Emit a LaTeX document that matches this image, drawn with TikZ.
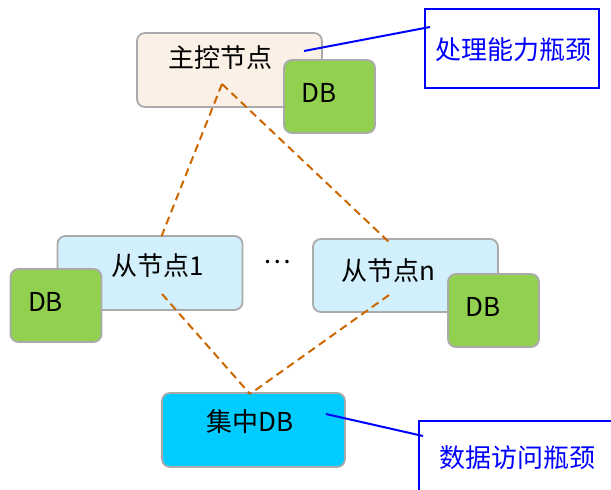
\documentclass[tikz,border=0pt]{standalone}
\usepackage{fontspec}
\newfontfamily\cjk{Noto Sans CJK SC}
\definecolor{boxgray}{RGB}{170,170,170}
\definecolor{masterfill}{RGB}{250,240,230}
\definecolor{slavefill}{RGB}{210,240,252}
\definecolor{dbgreen}{RGB}{146,208,80}
\definecolor{centralfill}{RGB}{0,204,255}
\definecolor{linkorange}{RGB}{204,102,0}
\definecolor{noteblue}{RGB}{0,0,255}
\begin{document}
\begin{tikzpicture}
[x=1pt,y=-1pt,
  boxdecorate/.style={draw=boxgray,line width=1.8pt,rounded corners=8pt,
    minimum width=185pt,minimum height=74pt},%
  dbdecorate/.style={boxdecorate,fill=dbgreen,minimum width=91pt,minimum height=73pt},%
  textdecorate/.style={font=\cjk\fontsize{26}{30}\selectfont,inner sep=0pt},%
  notedecorate/.style={draw=noteblue,line width=2pt,text=noteblue},%
  linkdecorate/.style={draw=linkorange,line width=2pt,dash pattern=on 8pt off 5pt}]
\clip (0,0) rectangle (611,490);
%% master node
\node (master) at (229.5,70) [boxdecorate,fill=masterfill] {};
\node (mastertext) at (220,58) [textdecorate] {主控节点};
%% slave nodes
\node (slave1) at (150,273) [boxdecorate,fill=slavefill] {};
\node (slave1text) at (158,266) [textdecorate] {从节点1};
\node (slaven) at (405.5,275.5) [boxdecorate,fill=slavefill,minimum height=73pt] {};
\node (slaventext) at (388,271) [textdecorate] {从节点n};
\node (dots) at (277,262) [textdecorate] {…};
%% local databases
\foreach \nodename/\x/\y in {masterdb/329.5/96.5, slave1db/56/305.5, slavendb/493.5/310.5} {
  \node (\nodename) at (\x,\y) [dbdecorate] {};
  \node (\nodename text) at (\x-10.5,\y-4) [textdecorate] {DB};
}
%% central database
\node (central) at (253.5,430) [boxdecorate,fill=centralfill,minimum width=183pt] {};
\node (centraltext) at (250,422) [textdecorate] {集中DB};
%% bottleneck notes
\node (note1) at (512,48.5) [notedecorate,minimum width=174pt,minimum height=79pt] {};
\node (note1text) at (513,50) [textdecorate,text=noteblue] {处理能力瓶颈};
\node (note2) at (516,458) [notedecorate,minimum width=194pt,minimum height=74pt] {};
\node (note2text) at (517,458) [textdecorate,text=noteblue] {数据访问瓶颈};
%% end points of the links
\coordinate (mastertip) at (222,84);
\coordinate (slave1top) at (160,240);
\coordinate (slave1bot) at (162,294);
\coordinate (slaventop) at (390,243);
\coordinate (slavenbot) at (389,295);
\coordinate (centraltop) at (250,394);
\coordinate (masterpin) at (304,51);
\coordinate (note1pin) at (430,27);
\coordinate (centralpin) at (326,414);
\coordinate (note2pin) at (423,436);
%% dashed links
\path
\foreach \startnode/\endnode in {mastertip/slave1top, mastertip/slaventop,
  slave1bot/centraltop, slavenbot/centraltop} {
  (\startnode) edge[linkdecorate] (\endnode)
};
%% note lines
\draw[noteblue,line width=2pt] (masterpin) -- (note1pin);
\draw[noteblue,line width=2pt] (centralpin) -- (note2pin);
\end{tikzpicture}
\end{document}
